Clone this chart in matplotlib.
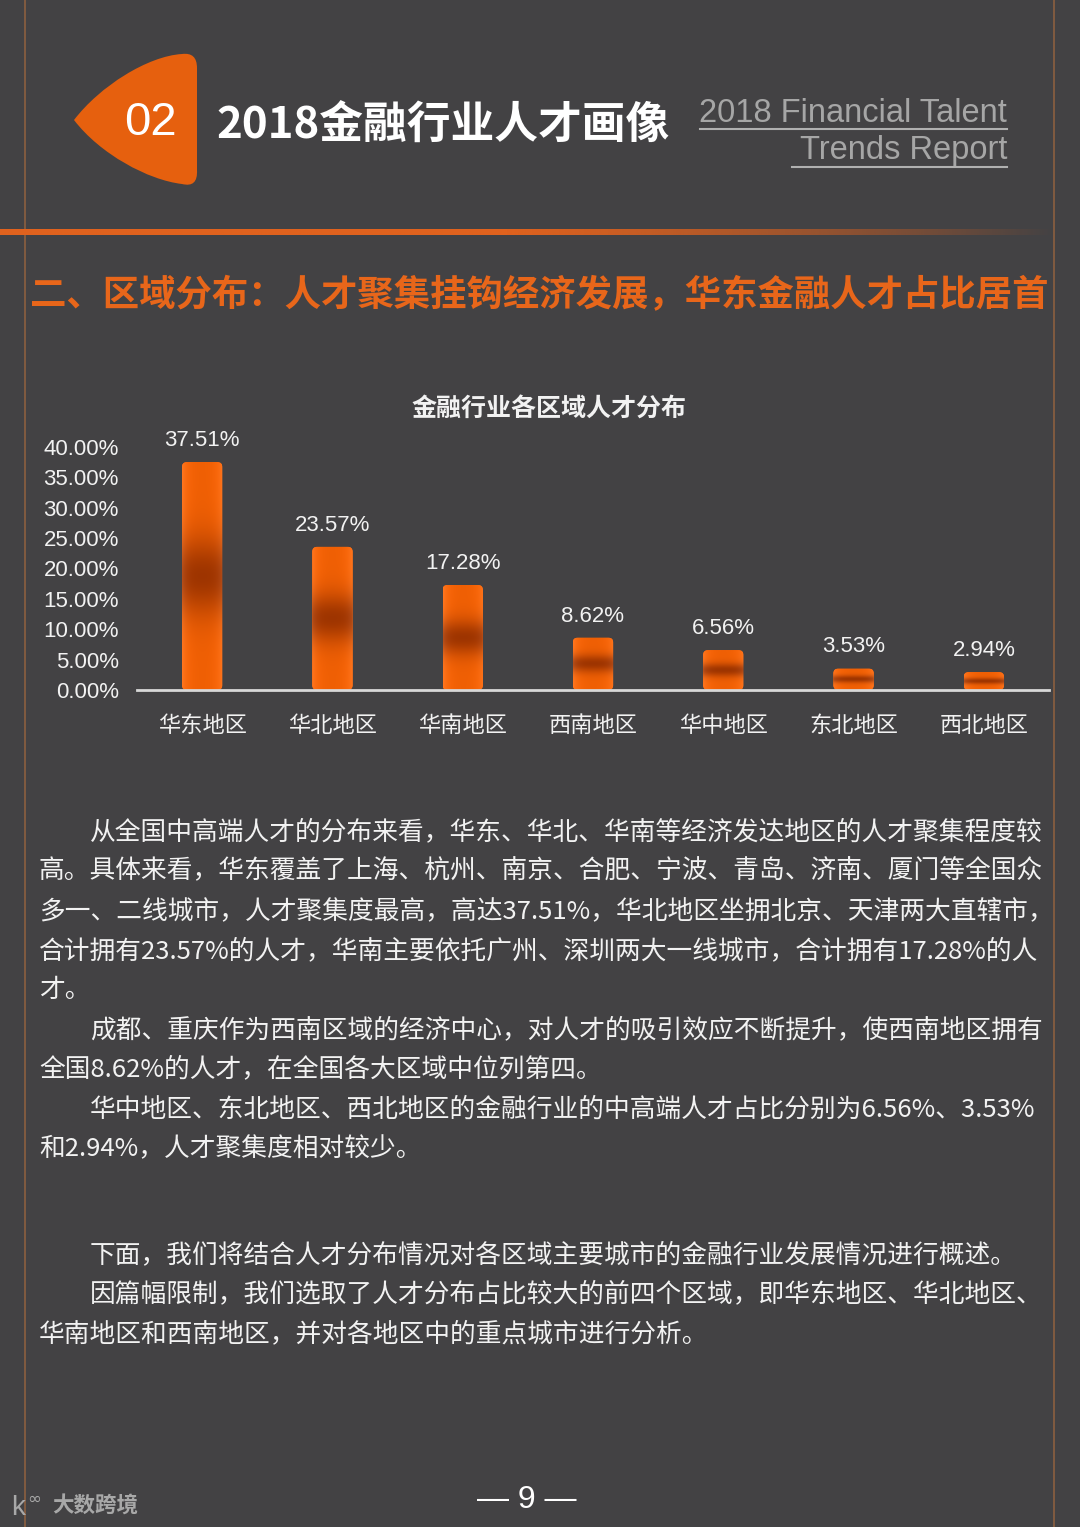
import numpy as np
import matplotlib
matplotlib.use("Agg")
import matplotlib.pyplot as plt
from matplotlib.patches import FancyBboxPatch, PathPatch
from matplotlib.path import Path

# ---------------- data ----------------
categories = ["华东地区", "华北地区", "华南地区", "西南地区", "华中地区", "东北地区", "西北地区"]
shares = [37.51, 23.57, 17.28, 8.62, 6.56, 3.53, 2.94]          # percent
y_ticks = [0, 5, 10, 15, 20, 25, 30, 35, 40]                    # percent

chart_title = "金融行业各区域人才分布"
page_title = "2018金融行业人才画像"
section_no = "02"
en_title = ["2018 Financial Talent", "Trends Report"]
section_heading = "二、区域分布：人才聚集挂钩经济发展，华东金融人才占比居首"
body_block1 = [
    (True,  "从全国中高端人才的分布来看，华东、华北、华南等经济发达地区的人才聚集程度较"),
    (False, "高。具体来看，华东覆盖了上海、杭州、南京、合肥、宁波、青岛、济南、厦门等全国众"),
    (False, "多一、二线城市，人才聚集度最高，高达37.51%，华北地区坐拥北京、天津两大直辖市，"),
    (False, "合计拥有23.57%的人才，华南主要依托广州、深圳两大一线城市，合计拥有17.28%的人"),
    (False, "才。"),
    (True,  "成都、重庆作为西南区域的经济中心，对人才的吸引效应不断提升，使西南地区拥有"),
    (False, "全国8.62%的人才，在全国各大区域中位列第四。"),
    (True,  "华中地区、东北地区、西北地区的金融行业的中高端人才占比分别为6.56%、3.53%"),
    (False, "和2.94%，人才聚集度相对较少。"),
]
body_block2 = [
    (True,  "下面，我们将结合人才分布情况对各区域主要城市的金融行业发展情况进行概述。"),
    (True,  "因篇幅限制，我们选取了人才分布占比较大的前四个区域，即华东地区、华北地区、"),
    (False, "华南地区和西南地区，并对各地区中的重点城市进行分析。"),
]
page_no = "— 9 —"
watermark = "大数跨境"

# ---------------- style ----------------
BG = "#434244"
ORANGE = "#E6600E"
TXT = "#F2F2F2"
CJK = ["Noto Sans CJK SC", "DejaVu Sans"]
LAT = ["Liberation Sans", "DejaVu Sans"]
W, H = 1080, 1527

fig = plt.figure(figsize=(W / 100, H / 100), dpi=100, facecolor=BG)

# decoration axes in pixel coordinates
bg = fig.add_axes([0, 0, 1, 1], zorder=0)
bg.set_xlim(0, W)
bg.set_ylim(H, 0)
bg.axis("off")
bg.set_facecolor(BG)

# vertical thin frame lines
for xv in (25, 1054):
    bg.plot([xv, xv], [0, H], color="#8C6040", lw=1.2, zorder=1)

# orange rounded triangle
verts = [(74, 120),
         (100, 86), (148, 56), (182, 54),
         (197, 52), (197, 68),
         (197, 170),
         (198, 188), (182, 184),
         (148, 180), (100, 154), (74, 120),
         (74, 120)]
codes = [Path.MOVETO,
         Path.CURVE4, Path.CURVE4, Path.CURVE4,
         Path.CURVE3, Path.CURVE3,
         Path.LINETO,
         Path.CURVE3, Path.CURVE3,
         Path.CURVE4, Path.CURVE4, Path.CURVE4,
         Path.CLOSEPOLY]
bg.add_patch(PathPatch(Path(verts, codes), facecolor=ORANGE, edgecolor="none", zorder=2))
bg.text(150, 123, section_no, color="white", fontsize=34, family=LAT,
        ha="center", va="center", zorder=3)
bg.text(216, 126, page_title, color="white", fontsize=31.5, family=CJK,
        fontweight="bold", ha="left", va="center", zorder=3)

# English subtitle with underlines
bg.text(1007, 113, en_title[0], color="#A6A6A6", fontsize=23.5,
        family=["Liberation Sans Narrow", "Liberation Sans"], ha="right", va="center")
bg.plot([700, 1007], [129, 129], color="#B0B0B0", lw=1.5)
bg.text(1007, 151, en_title[1], color="#A6A6A6", fontsize=23.5,
        family=["Liberation Sans Narrow", "Liberation Sans"], ha="right", va="center")
bg.plot([792, 1007], [167, 167], color="#B0B0B0", lw=1.5)

# fading orange rule
n = 600
grad = np.zeros((1, n, 4))
grad[..., 0] = 0xE0 / 255
grad[..., 1] = 0x62 / 255
grad[..., 2] = 0x1E / 255
xs = np.linspace(0, 1, n)
grad[0, :, 3] = np.clip(1.25 - 1.25 * xs ** 2.2, 0, 1)
bg.imshow(grad, extent=[0, 1055, 235, 229], aspect="auto", zorder=2, interpolation="bilinear")
bg.set_xlim(0, W)
bg.set_ylim(H, 0)

# section heading
bg.text(30, 296, section_heading, color="#E8661A", fontsize=26.2, family=CJK,
        fontweight="black", ha="left", va="center")

# chart title
bg.text(549, 409, chart_title, color=TXT, fontsize=18, family=CJK,
        fontweight="bold", ha="center", va="center")

# body text
def draw_block(lines, y0, step):
    for i, (indent, s) in enumerate(lines):
        bg.text(90 if indent else 39, y0 + i * step, s, color=TXT, fontsize=18.5,
                family=CJK, ha="left", va="center")

draw_block(body_block1, 832, 39.6)
draw_block(body_block2, 1255, 39.5)

# footer
bg.text(527, 1500, page_no, color="white", fontsize=23, family=LAT, ha="center", va="center")
bg.text(52, 1506, watermark, color="#A8A8A8", fontsize=15.5, family=CJK,
        fontweight="bold", ha="left", va="center")
bg.text(11, 1508, "k", color="#A8A8A8", fontsize=20, family=LAT, ha="left", va="center")
bg.text(27, 1499, "∞", color="#A8A8A8", fontsize=12, family=["DejaVu Sans"], ha="left", va="center")

# ---------------- bar chart ----------------
ax = fig.add_axes([137 / W, 1 - 690 / H, 912 / W, 243 / H], zorder=5)
ax.set_facecolor("none")
x = np.arange(len(categories))
vals = np.array(shares) / 100.0
ax.set_xlim(-0.5, len(categories) - 0.5)
ax.set_ylim(0, 0.40)

bars = ax.bar(x, vals, width=0.31, color="#FF6A0A", zorder=2)

# gradient fill for each bar (clipped to a rounded version of the bar)
ny, nx = 200, 40
t = np.linspace(0, 1, ny)[:, None]
s = np.linspace(-1, 1, nx)[None, :]
bright = np.array([1.0, 0.40, 0.02])
dark = np.array([0.66, 0.22, 0.00])
d = np.exp(-((t - 0.5) / 0.17) ** 2)[..., None]
img = bright + (dark - bright) * d
img = img + (1 - img) * (0.10 * s ** 4)[..., None]
img = img * (1 - 0.06 * (1 - s ** 2))[..., None]
img = np.clip(img, 0, 1)

px_x = 912 / (len(categories))          # pixels per x unit
px_y = 243 / 0.40                       # pixels per y unit
r_px = 5
rx = r_px / px_x
ry = r_px / px_y
for rect in bars:
    x0, y0 = rect.get_x(), rect.get_y()
    w, h = rect.get_width(), rect.get_height()
    rr = min(rx, h / 2 * rx / ry)
    rp = FancyBboxPatch((x0, y0), w, h, boxstyle=f"round,pad=0,rounding_size={rr}",
                        mutation_aspect=ry / rx, transform=ax.transData,
                        facecolor="none", edgecolor="none")
    ax.add_patch(rp)
    rect.set_clip_path(rp)
    im = ax.imshow(img, extent=[x0, x0 + w, y0, y0 + h], origin="lower",
                   aspect="auto", zorder=3, interpolation="bilinear")
    im.set_clip_path(rp)

ax.set_xlim(-0.5, len(categories) - 0.5)
ax.set_ylim(0, 0.40)

for xi, v in zip(x, shares):
    ax.annotate(f"{v:.2f}%", (xi, v / 100), xytext=(0, 8), textcoords="offset points",
                ha="center", va="bottom", color=TXT, fontsize=16, family=LAT, zorder=4)

ax.set_yticks([v / 100 for v in y_ticks])
ax.set_yticklabels([f"{v:.2f}%" for v in y_ticks], family=LAT, fontsize=16, color=TXT)
ax.set_xticks(x)
ax.set_xticklabels(categories, family=CJK, fontsize=16, color=TXT)
ax.tick_params(axis="both", length=0)
ax.tick_params(axis="y", pad=13)
ax.tick_params(axis="x", pad=17)
for sp in ("left", "right", "top"):
    ax.spines[sp].set_visible(False)
ax.spines["bottom"].set_color("#D8D8D8")
ax.spines["bottom"].set_linewidth(2)
ax.spines["bottom"].set_zorder(4)

fig.savefig("out.png", dpi=100, facecolor=BG)
